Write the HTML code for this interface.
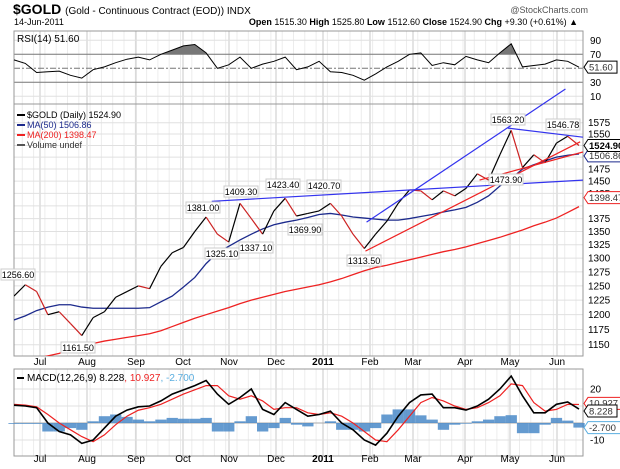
<!DOCTYPE html>
<html><head><meta charset="utf-8"><style>
body{margin:0;background:#fff;}
svg{display:block;font-family:"Liberation Sans",sans-serif;}
</style></head><body>
<svg id="c" width="620" height="469" viewBox="0 0 620 469" xmlns="http://www.w3.org/2000/svg">
<g>
<text x="13" y="14" font-size="14" font-weight="bold">$GOLD <tspan font-size="10" font-weight="normal">(Gold - Continuous Contract (EOD)) INDX</tspan></text>
<text x="14" y="25" font-size="9">14-Jun-2011</text>
<text x="578" y="25" font-size="9" text-anchor="end"><tspan font-weight="bold">Open</tspan> 1515.30 <tspan font-weight="bold">High</tspan> 1525.80 <tspan font-weight="bold">Low</tspan> 1512.60 <tspan font-weight="bold">Close</tspan> 1524.90 <tspan font-weight="bold">Chg</tspan> +9.30 (+0.61%) ▲</text>
<text x="588" y="13" font-size="9" text-anchor="end" fill="#555">@StockCharts.com</text>
</g>
<g id="grid"></g>
<g id="marks"></g>
<g id="labels"></g>
</svg>
<script>
const months=["Jul","Aug","Sep","Oct","Nov","Dec","2011","Feb","Mar","Apr","May","Jun"];
const monthX=[40,87,136,183,229,276,323,370,413,465,510,557];
const priceTicks=[1575,1550,1475,1450,1425,1375,1350,1325,1300,1275,1250,1225,1200,1175,1150];
const priceGrid=[1575,1550,1525,1500,1475,1450,1425,1400,1375,1350,1325,1300,1275,1250,1225,1200,1175,1150];
const rsiTicks=[90,70,30,10];
const macdTicks=[20,-10];
const price=[1232,1252,1240,1200,1205,1185,1165,1195,1205,1230,1240,1250,1245,1285,1310,1320,1350,1378,1345,1330,1405,1375,1345,1390,1415,1380,1385,1390,1405,1380,1345,1318,1345,1370,1405,1432,1430,1412,1430,1420,1435,1465,1452,1505,1558,1478,1505,1488,1530,1545,1524.9];
const ma50=[1191,1198,1207,1213,1217,1217,1213,1211,1211,1211,1211,1211,1212,1222,1232,1248,1265,1290,1310,1322,1334,1345,1355,1363,1368,1372,1377,1383,1385,1382,1378,1376,1374,1372,1372,1375,1379,1383,1388,1392,1397,1407,1420,1440,1455,1475,1484,1492,1500,1504,1506.86];
const ma200=[1120,1124,1128,1132,1136,1142,1147,1152,1156,1159,1162,1165,1168,1173,1180,1187,1194,1200,1206,1212,1219,1225,1230,1235,1240,1244,1248,1252,1257,1263,1270,1277,1283,1287,1292,1297,1302,1307,1312,1316,1321,1327,1333,1339,1346,1353,1361,1368,1376,1387,1398.47];
const rsi=[62,57,44,45,46,40,36,48,52,58,63,66,62,70,76,82,84,72,50,55,66,50,56,60,66,48,52,60,45,44,40,33,42,52,60,70,72,54,58,55,67,62,58,72,85,52,54,56,62,60,51.6];
const macd=[10.5,10,9,0,-5,-7,-12,-10,-3,4,7.6,9.5,10,13,17,19.5,22,25,17,11,15,20,8,5,12,8,4,5,7,0,-4,-10,-13,-6,4,12,16.5,17,9,9,7.6,10,14,20,27.6,16,6,6,11,12.4,8.228];
const signal=[11,10.5,9.5,5,0,-4,-8,-11,-7,-1,4,7.5,9,11,14,17,19.5,22,22,16,14,16,13,8,9,9,6,5,6,4,0,-5,-10,-11,-4,4,12,15,13,10,8,9,12,16,23,22,12,7,8,11,10.927];
const trendBlue=[[[17.5,1409],[50.35,1452]],[[31.2,1368],[48.8,1652]],[[43.7,1563],[50.35,1543]]];
const trendRed=[[[31.1,1313],[50.1,1533]],[[41.2,1452],[50.35,1511]]];

const NS="http://www.w3.org/2000/svg";
const L=14,R=583;
const x=i=>14+i*11.3;
const yP=p=>122.7+Math.log(1575/p)*706;
const yR=v=>68.3-(v-50)*0.7;
const yM=v=>423-v*1.7;
function mk(parent,tag,attrs){const e=document.createElementNS(NS,tag);for(const k in attrs)e.setAttribute(k,attrs[k]);document.getElementById(parent).appendChild(e);return e;}
function line(p,x1,y1,x2,y2,st,w,extra){return mk(p,'line',Object.assign({x1,y1,x2,y2,stroke:st,'stroke-width':w||1},extra||{}));}
function txt(p,tx,ty,s,extra){const e=mk(p,'text',Object.assign({x:tx,y:ty,'font-size':9},extra||{}));e.textContent=s;return e;}

const panels=[[31,104],[104,356],[369,456]];
panels.forEach(pn=>{
 for(let i=0;i<=50;i+=1){const gx=x(i)-3;if(gx>L&&gx<R){const e=line('grid',gx,pn[0],gx,pn[1],'#ececec',1);}}
 monthX.forEach(mx=>{const e=line('grid',mx,pn[0],mx,pn[1],'#c8c8c8',1);});
});
priceGrid.forEach(p=>{const e=line('grid',L,yP(p),R,yP(p),'#e0e0e0',1);});
[90,10].forEach(v=>{const e=line('grid',L,yR(v),R,yR(v),'#e0e0e0',1);});
[70,30].forEach(v=>{const e=line('grid',L,yR(v),R,yR(v),'#777',1);});
{const e=line('grid',L,yR(50),R,yR(50),'#777',1,{'stroke-dasharray':'6,2,2,2'});}
[20,10,-10].forEach(v=>{const e=line('grid',L,yM(v),R,yM(v),'#e0e0e0',1);});
{const e=line('grid',L,yM(0),R,yM(0),'#aaa',1);}
panels.forEach(pn=>{const e=mk('grid','rect',{x:L,y:pn[0],width:R-L,height:pn[1]-pn[0],fill:'none',stroke:'#999'});});

{let d='';for(let i=0;i<rsi.length-1;i++){const a=rsi[i],b=rsi[i+1];if(a>70||b>70){const t1=a>70?0:(70-a)/(b-a),t2=b>70?1:(70-a)/(b-a);const xa=x(i)+t1*11.3,xb=x(i)+t2*11.3;const va=a+(b-a)*t1,vb=a+(b-a)*t2;d+=`M${xa},${yR(70)}L${xa},${yR(va)}L${xb},${yR(vb)}L${xb},${yR(70)}Z`;}}
const e=mk('marks','path',{d,fill:'#777'});}
function poly(arr,yf,col,w,name){const pts=arr.map((v,i)=>x(i)+','+yf(v)).join(' ');const e=mk('marks','polyline',{points:pts,fill:'none',stroke:col,'stroke-width':w});return e;}
poly(rsi,yR,'#000',1,'rsi-line');

mk('marks','clipPath',{id:'cm'}).innerHTML='<rect x="14" y="104" width="569" height="252"/>';
const gm=mk('marks','g',{'clip-path':'url(#cm)'});gm.setAttribute('id','main');

function mpoly(arr,col,w,name){const pts=arr.map((v,i)=>x(i)+','+yP(v)).join(' ');const e=mk('main','polyline',{points:pts,fill:'none',stroke:col,'stroke-width':w});}
mpoly(ma200,'#ee2222',1.3,'ma200-line');
mpoly(ma50,'#1c2a8c',1.3,'ma50-line');
for(let i=0;i<price.length-1;i++){const e=line('main',x(i),yP(price[i]),x(i+1),yP(price[i+1]),price[i+1]<price[i]?'#cc2222':'#000',1.2);}
trendBlue.forEach(t=>{const e=line('marks',x(t[0][0]),yP(t[0][1]),x(t[1][0]),yP(t[1][1]),'#3333ee',1.2);});
trendRed.forEach(t=>{const e=line('marks',x(t[0][0]),yP(t[0][1]),x(t[1][0]),yP(t[1][1]),'#ee2222',1.2);});

macd.forEach((v,i)=>{const h=v-signal[i];const y0=yM(0),y1=yM(h);const e=mk('marks','rect',{x:x(i)-5.6,y:Math.min(y0,y1),width:11.3,height:Math.abs(y1-y0),fill:'#4a8ac8',opacity:0.85});});
poly(signal,yM,'#ee2222',1.2,'macd-signal-line');
poly(macd,yM,'#000',1.6,'macd-line');

priceTicks.forEach(p=>{const e=txt('labels',588,yP(p)+3.5,String(p),{'font-size':10});});
rsiTicks.forEach(v=>{const e=txt('labels',590,yR(v)+3.5,String(v),{'font-size':10});});
macdTicks.forEach(v=>{const e=txt('labels',590,yM(v)+3.5,String(v),{'font-size':10});});
months.forEach((m,i)=>{[365,462].forEach(yy=>{const e=txt('labels',monthX[i],yy,m,{'font-size':10,'text-anchor':'middle','font-weight':m==='2011'?'bold':'normal'});});});
function tag(val,ty,col,bold,name){const w=val.length*5.2+3;const e=mk('labels','path',{d:`M584,${ty}l4,-6h${w}v12h-${w}z`,fill:'#fff',stroke:col});
 const t=txt('labels',589,ty+3.3,val,{'font-size':9.5,fill:bold?'#000':'#333','font-weight':bold?'bold':'normal'});}
tag('1506.86',yP(1506.86)+2,'#1c2a8c',false,'ma50-value-tag');
tag('1524.90',yP(1524.9),'#000',true,'close-value-tag');
tag('1398.47',yP(1398.47)-9,'#ee2222',false,'ma200-value-tag');
tag('51.60',yR(51.6),'#000',false,'rsi-value-tag');
tag('10.927',yM(10.927)-1,'#ee2222',false,'signal-value-tag');
tag('8.228',yM(8.228)+2,'#000',false,'macd-value-tag');
tag('-2.700',yM(-2.7),'#5aaee0',false,'histogram-value-tag');
const notes=[['1256.60',18,277],['1161.50',78,350],['1381.00',203,210],['1325.10',222,256],['1409.30',241,194],['1337.10',256,250],['1423.40',283,187],['1369.90',305,232],['1420.70',324,188],['1313.50',364,263],['1473.90',506,182],['1563.20',508,122],['1546.78',563,127]];
notes.forEach(n=>{const r=mk('labels','rect',{x:n[1]-17,y:n[2]-8,width:34,height:11,fill:'#fff',stroke:'#ccc'});
 const t=txt('labels',n[1],n[2]+1,n[0],{'font-size':9,'text-anchor':'middle'});});
const leg=[['$GOLD (Daily) 1524.90','#000',118],['MA(50) 1506.86','#1c2a8c',128],['MA(200) 1398.47','#ee2222',138],['Volume undef','#555',148]];
leg.forEach(l=>{const e=line('labels',17,l[2]-3,25,l[2]-3,l[1],2);
 const t=txt('labels',27,l[2],l[0],{'font-size':9,fill:l[1]==='#555'?'#333':l[1]});});
{const t=txt('labels',17,42,'RSI(14) 51.60',{'font-size':10});}
{const e=line('labels',17,378,24,378,'#000',2);
const t=mk('labels','text',{x:27,y:381,'font-size':10});t.innerHTML='MACD(12,26,9) 8.228<tspan fill="#ee2222">, 10.927</tspan><tspan fill="#5aaee0">, -2.700</tspan>';}
</script>
</body></html>
